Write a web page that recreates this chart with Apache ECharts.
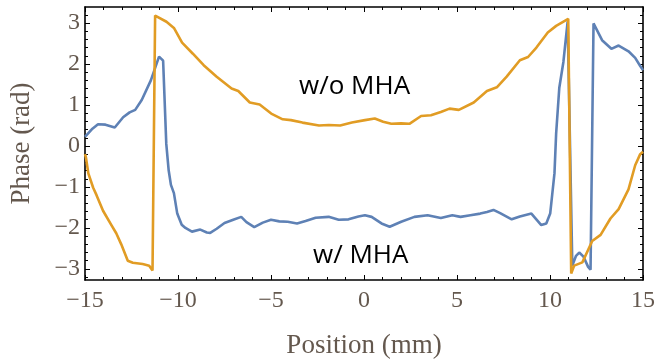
<!DOCTYPE html>
<html>
<head>
<meta charset="utf-8">
<script src="https://cdn.jsdelivr.net/npm/echarts@6/dist/echarts.min.js"></script>
<style>html,body{margin:0;padding:0;background:#fff;}#c{width:658px;height:364px;}</style>
</head>
<body>
<div id="c"></div>
<script>
// Position (mm) and phase (rad), w/ MHA (blue)
const posWithMHA = [-15,-14.6,-14.3,-13.9,-13.4,-12.95,-12.6,-12.3,-11.95,-11.46,-11.02,-10.8,-10.63,-10.5,-10.38,-10.22,-10.04,-9.8,-9.6,-9.25,-8.8,-8.45,-8.27,-7.92,-7.5,-7.03,-6.6,-6.32,-5.9,-5.44,-5.0,-4.55,-4.1,-3.6,-3.14,-2.6,-1.9,-1.36,-0.83,-0.3,0.05,0.41,0.94,1.38,2.0,2.71,3.42,4.13,4.75,5.19,5.72,6.25,6.61,6.96,7.32,7.94,8.38,9.0,9.53,9.8,10.01,10.12,10.24,10.33,10.5,10.72,10.95,11.2,11.4,11.57,11.8,12.05,12.18,12.34,12.8,13.3,13.69,14.22,14.58,14.85,15];
const phaseWithMHA = [0.22,0.42,0.53,0.52,0.45,0.7,0.82,0.88,1.12,1.6,2.18,2.08,0.05,-0.6,-0.95,-1.15,-1.65,-1.92,-2.0,-2.09,-2.04,-2.11,-2.12,-2.02,-1.88,-1.8,-1.73,-1.86,-1.98,-1.87,-1.8,-1.84,-1.85,-1.89,-1.83,-1.75,-1.73,-1.8,-1.79,-1.72,-1.69,-1.73,-1.89,-1.97,-1.85,-1.73,-1.69,-1.76,-1.69,-1.73,-1.69,-1.65,-1.61,-1.56,-1.64,-1.79,-1.72,-1.65,-1.93,-1.89,-1.65,-1.18,-0.67,0.3,1.42,2.05,3.04,-2.92,-2.68,-2.6,-2.7,-2.95,-3.02,2.99,2.58,2.37,2.45,2.31,2.15,1.95,1.85];
// w/o MHA (orange)
const posWithoutMHA = [-15,-14.95,-14.82,-14.56,-14.38,-14.03,-13.58,-13.32,-13.05,-12.7,-12.43,-11.9,-11.55,-11.37,-11.23,-10.62,-10.22,-9.78,-9.2,-8.62,-7.92,-7.12,-6.76,-6.14,-5.61,-4.99,-4.37,-3.93,-3.31,-2.42,-1.89,-1.28,-0.65,0.05,0.58,1.03,1.47,2.0,2.44,3.07,3.6,4.13,4.6,5.1,5.9,6.61,7.14,7.67,8.38,8.82,9.27,9.88,10.33,10.98,11.14,11.3,11.74,12.27,12.72,13.25,13.69,14.22,14.58,14.85,15];
const phaseWithoutMHA = [-0.2,-0.28,-0.67,-1.02,-1.2,-1.58,-1.93,-2.13,-2.4,-2.8,-2.85,-2.88,-2.92,-3.04,3.18,3.03,2.88,2.52,2.25,1.97,1.69,1.4,1.34,1.06,1.01,0.79,0.65,0.63,0.57,0.5,0.51,0.5,0.57,0.63,0.67,0.59,0.54,0.55,0.54,0.73,0.75,0.83,0.91,0.88,1.06,1.34,1.43,1.69,2.09,2.17,2.4,2.77,2.93,3.1,-3.11,-2.92,-2.84,-2.32,-2.17,-1.77,-1.54,-1.06,-0.47,-0.2,-0.14];
const yMajorTicks = [-3,-2,-1,0,1,2,3];
const yMinorTicks = [-3.2,-2.8,-2.6,-2.4,-2.2,-1.8,-1.6,-1.4,-1.2,-0.8,-0.6,-0.4,-0.2,0.2,0.4,0.6,0.8,1.2,1.4,1.6,1.8,2.2,2.4,2.6,2.8,3.2];
const seriesNames = ['w/ MHA','w/o MHA'];
const xName = 'Position (mm)';
const yName = 'Phase (rad)';

const pairs = (xs, ys) => xs.map((x, i) => [x, ys[i]]);
const fmt = v => (v < 0 ? '\u2212' + Math.abs(v) : String(v));
const labelColor = '#64584e';
const serif = '"Liberation Serif","DejaVu Serif",serif';
const Y_MIN = -3.27, Y_MAX = 3.39;

function xAx(pos, labels) {
  return {
    type: 'value', position: pos, min: -15, max: 15, interval: 5,
    name: labels ? xName : '', nameLocation: 'middle', nameGap: 52,
    nameTextStyle: { fontFamily: serif, fontSize: 27, color: labelColor },
    axisLine: { show: true, onZero: false, lineStyle: { color: '#000', width: 1.6 } },
    axisTick: { show: true, inside: true, length: 5, lineStyle: { color: '#000', width: 1 } },
    minorTick: { show: true, splitNumber: 5, length: 3, lineStyle: { color: '#000', width: 1 } },
    axisLabel: { show: labels, margin: 9, fontFamily: serif, fontSize: 24, color: labelColor, formatter: fmt },
    splitLine: { show: false }, minorSplitLine: { show: false }
  };
}
function yAx(pos, ticks, len, labels, line) {
  return {
    type: 'value', position: pos, min: Y_MIN, max: Y_MAX,
    name: labels ? yName : '', nameLocation: 'middle', nameGap: 50,
    nameTextStyle: { fontFamily: serif, fontSize: 27, color: labelColor },
    axisLine: { show: line, onZero: false, lineStyle: { color: '#000', width: 1.6 } },
    axisTick: { show: true, inside: true, length: len, customValues: ticks, lineStyle: { color: '#000', width: 1 } },
    axisLabel: { show: labels, margin: 5, fontFamily: serif, fontSize: 24, color: labelColor, customValues: ticks, formatter: fmt },
    splitLine: { show: false }
  };
}

const chart = echarts.init(document.getElementById('c'), null, { renderer: 'canvas' });
chart.setOption({
  animation: false,
  backgroundColor: '#fff',
  grid: { left: 79, right: 15, top: 7, bottom: 76 },
  xAxis: [xAx('bottom', true), xAx('top', false)],
  yAxis: [
    yAx('left', yMajorTicks, 5, true, true),
    yAx('left', yMinorTicks, 3, false, false),
    yAx('right', yMajorTicks, 5, false, true),
    yAx('right', yMinorTicks, 3, false, false)
  ],
  series: [
    { name: seriesNames[0], type: 'line', data: pairs(posWithMHA, phaseWithMHA), showSymbol: false,
      lineStyle: { color: '#5E81B5', width: 2.6 }, itemStyle: { color: '#5E81B5' }, z: 2 },
    { name: seriesNames[1], type: 'line', data: pairs(posWithoutMHA, phaseWithoutMHA), showSymbol: false,
      lineStyle: { color: '#E19C24', width: 2.6 }, itemStyle: { color: '#E19C24' }, z: 3 }
  ],
  graphic: [
    { type: 'text', left: 299, top: 74, style: { text: seriesNames[1], fontFamily: '"Open Sans",sans-serif', fontSize: 26, fill: '#000' } },
    { type: 'text', left: 313, top: 243, style: { text: seriesNames[0], fontFamily: '"Open Sans",sans-serif', fontSize: 26, fill: '#000' } }
  ]
});
</script>
</body>
</html>
